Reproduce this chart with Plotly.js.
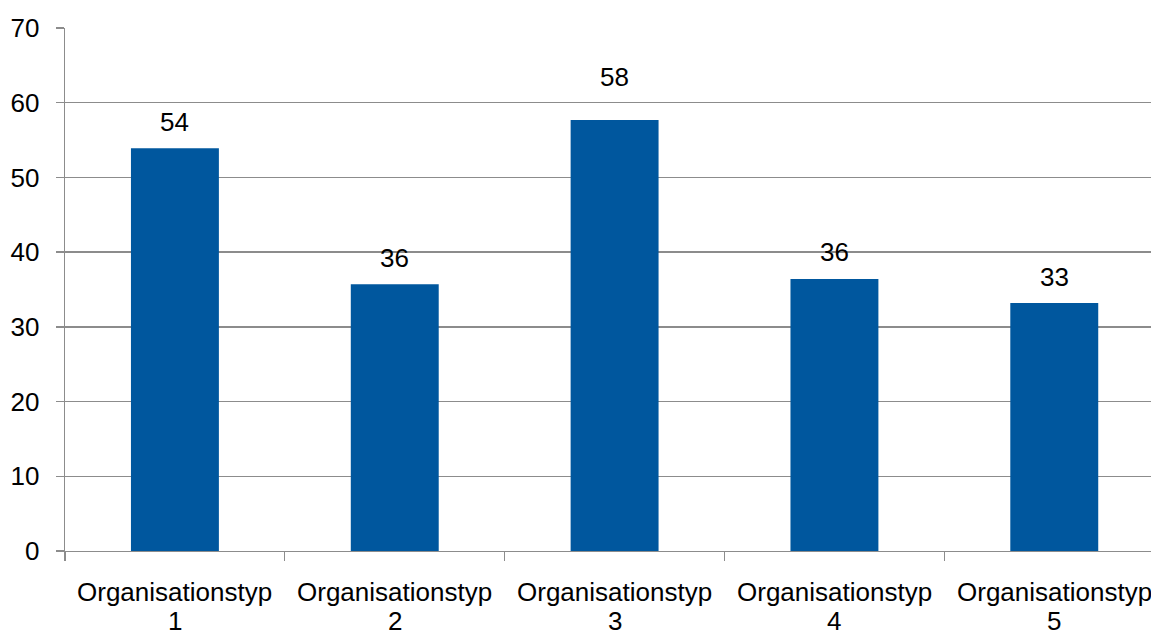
<!DOCTYPE html>
<html>
<head>
<meta charset="utf-8">
<script src="https://cdn.plot.ly/plotly-3.0.1.min.js"></script>
<style>html,body{margin:0;padding:0;background:#fff;}#chart{width:1151px;height:631px;}</style>
</head>
<body>
<div id="chart"></div>
<script>
const categories = ["Organisationstyp 1", "Organisationstyp 2", "Organisationstyp 3", "Organisationstyp 4", "Organisationstyp 5"];
const values = [53.9, 35.7, 57.7, 36.4, 33.2];
const labels = ["54", "36", "58", "36", "33"];
const yTicks = [0, 10, 20, 30, 40, 50, 60, 70];

// label offsets above bar tops (pixels) — layout only
const labelShift = [9, 9, 26, 10, 9];

const FONT = "Liberation Sans, Arial, sans-serif";
const FS = 26;
const GRID = "#8c8c8c";

const trace = {
  type: "bar",
  x: categories,
  y: values,
  marker: { color: "#00579E" },
  hoverinfo: "none"
};

const valueAnn = categories.map((c, i) => ({
  x: c, y: values[i], xref: "x", yref: "y",
  text: labels[i], showarrow: false,
  yanchor: "bottom", yshift: labelShift[i],
  font: { family: FONT, size: FS, color: "#000" }
}));

// category labels drawn in two lines with tighter line spacing
const catAnn = [];
categories.forEach((c, i) => {
  const parts = c.split(" ");
  catAnn.push({ x: c, y: 0, xref: "x", yref: "paper", text: parts[0], showarrow: false,
    yanchor: "middle", yshift: -41, font: { family: FONT, size: FS, color: "#000" } });
  catAnn.push({ x: c, y: 0, xref: "x", yref: "paper", text: parts[1], showarrow: false,
    yanchor: "middle", yshift: -70, font: { family: FONT, size: FS, color: "#000" } });
});

const layout = {
  width: 1151, height: 631,
  margin: { l: 65, r: 0, t: 28, b: 80, pad: 0 },
  paper_bgcolor: "#fff", plot_bgcolor: "#fff",
  showlegend: false,
  bargap: 0.6,
  font: { family: FONT, size: FS, color: "#000" },
  xaxis: {
    type: "category",
    range: [-0.5, 4.44],
    tickson: "boundaries",
    ticks: "outside", ticklen: 9, tickcolor: GRID, tickwidth: 1.3,
    showline: true, linecolor: GRID, linewidth: 1.3,
    showgrid: false, zeroline: false,
    showticklabels: false,
    fixedrange: true
  },
  yaxis: {
    range: [0, 70],
    tickvals: yTicks, ticktext: yTicks.map(String),
    ticks: "outside", ticklen: 8, tickcolor: GRID, tickwidth: 1.3,
    showline: true, linecolor: GRID, linewidth: 1.3,
    showgrid: true, gridcolor: GRID, gridwidth: 1.3,
    zeroline: false,
    tickfont: { family: FONT, size: FS, color: "#000" },
    ticklabelstandoff: 11,
    fixedrange: true
  },
  annotations: valueAnn.concat(catAnn)
};

Plotly.newPlot("chart", [trace], layout, { displayModeBar: false, staticPlot: true });
</script>
</body>
</html>
